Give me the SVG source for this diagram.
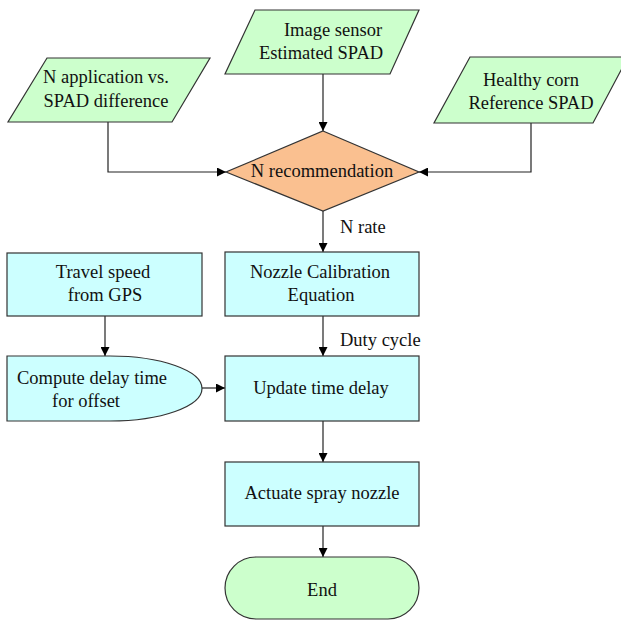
<svg xmlns="http://www.w3.org/2000/svg" width="621" height="620" viewBox="0 0 621 620">
<defs>
<marker id="ah" viewBox="0 0 10 10" refX="10" refY="5" markerUnits="userSpaceOnUse" markerWidth="10" markerHeight="9" orient="auto">
<path d="M0,0 L10,5 L0,10 Z" fill="#000"/>
</marker>
</defs>
<style>
.io{fill:#ccffcc;stroke:#333;stroke-width:1.2}
.pr{fill:#ccffff;stroke:#333;stroke-width:1.2}
.dc{fill:#fac090;stroke:#333;stroke-width:1.2}
.end{fill:#ccffcc;stroke:#333;stroke-width:1.2}
text{font-family:"Liberation Serif","Times New Roman",serif;font-size:18.5px;fill:#111}
.m{text-anchor:middle}
.c{fill:none;stroke:#222;stroke-width:1.2;marker-end:url(#ah)}
</style>
<rect width="621" height="620" fill="#fff"/>
<g id="connectors">
<path class="c" d="M323,74 V131"/>
<path class="c" d="M108,122 V172 H226"/>
<path class="c" d="M531,123 V172 H419"/>
<path class="c" d="M323,211 V252"/>
<path class="c" d="M323,316 V356"/>
<path class="c" d="M105,316 V356"/>
<path class="c" d="M202,388 H225"/>
<path class="c" d="M323,421 V462"/>
<path class="c" d="M323,526 V557"/>
<text x="340" y="233">N rate</text>
<text x="340" y="346">Duty cycle</text>
</g>
<g id="image-sensor">
<polygon class="io" points="255,10 419,10 390,74 225,74"/>
<text class="m" x="333" y="36">Image sensor</text>
<text class="m" x="321" y="59">Estimated SPAD</text>
</g>
<g id="n-application">
<polygon class="io" points="47,58 210,58 172,122 8,122"/>
<text class="m" x="106" y="83">N application vs.</text>
<text class="m" x="106" y="107">SPAD difference</text>
</g>
<g id="healthy-corn">
<polygon class="io" points="470,57 628,57 593,123 434,123"/>
<text class="m" x="531" y="86">Healthy corn</text>
<text class="m" x="531" y="109">Reference SPAD</text>
</g>
<g id="n-recommendation">
<polygon class="dc" points="323,131 419,172 323,211 226,172"/>
<text class="m" x="322" y="177">N recommendation</text>
</g>
<g id="travel-speed">
<rect class="pr" x="7" y="253" width="195" height="63"/>
<text class="m" x="103" y="278">Travel speed</text>
<text class="m" x="105" y="301">from GPS</text>
</g>
<g id="nozzle-calibration">
<rect class="pr" x="225" y="252" width="194" height="64"/>
<text class="m" x="320" y="278">Nozzle Calibration</text>
<text class="m" x="321" y="301">Equation</text>
</g>
<g id="compute-delay">
<path class="pr" d="M7,356 H110 A92,32.5 0 0 1 110,421 H7 Z"/>
<text class="m" x="92" y="384">Compute delay time</text>
<text class="m" x="86" y="407">for offset</text>
</g>
<g id="update-time-delay">
<rect class="pr" x="225" y="356" width="194" height="65"/>
<text class="m" x="321" y="394">Update time delay</text>
</g>
<g id="actuate-spray">
<rect class="pr" x="225" y="462" width="194" height="64"/>
<text class="m" x="322" y="499">Actuate spray nozzle</text>
</g>
<g id="end">
<rect class="end" x="225" y="557" width="194" height="62" rx="31" ry="31"/>
<text class="m" x="322" y="596">End</text>
</g>
</svg>
